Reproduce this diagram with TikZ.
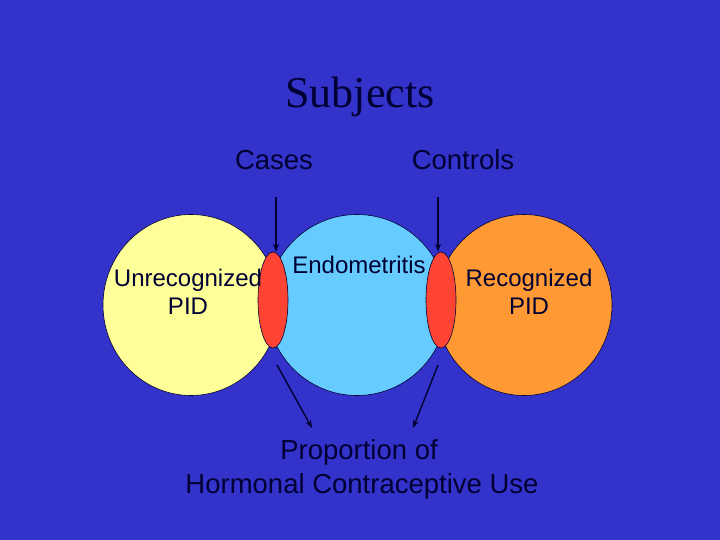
\documentclass[tikz,border=0pt]{standalone}
\usepackage{fontspec}
\setmainfont{Liberation Sans}
\newfontfamily\titlefont{Liberation Serif}
\usetikzlibrary{shapes.geometric,arrows.meta}
\definecolor{bg}{HTML}{3333CC}
\definecolor{ink}{HTML}{000033}
\definecolor{cyel}{HTML}{FFFF99}
\definecolor{cblu}{HTML}{66CCFF}
\definecolor{cora}{HTML}{FF9933}
\definecolor{cred}{HTML}{FF4433}
\tikzset{
  venn/.style={ellipse, draw=ink, line width=0.6pt, inner sep=0pt},
  lbl/.style={anchor=base, text=ink, inner sep=0pt, font=\fontsize{24}{28}\selectfont},
  big/.style={anchor=base, text=ink, inner sep=0pt, font=\fontsize{27.5}{32}\selectfont},
  arr/.style={draw=ink, line width=1.4pt, -{Stealth[length=8pt,width=6pt]}},
}
\begin{document}
\begin{tikzpicture}[x=1pt,y=-1pt]
\fill[bg] (0,0) rectangle (720,540);
\useasboundingbox (0,0) rectangle (720,540);
% circles
\node[venn, fill=cyel, minimum width=176pt, minimum height=181pt] (yel) at (191,305) {};
\node[venn, fill=cora, minimum width=176pt, minimum height=181pt] (ora) at (524,305) {};
\node[venn, fill=cblu, minimum width=180pt, minimum height=181pt] (blu) at (357,305) {};
% overlaps
\node[venn, fill=cred, minimum width=30pt, minimum height=96pt] (e1) at (273,300) {};
\node[venn, fill=cred, minimum width=30pt, minimum height=96pt] (e2) at (441,300) {};
% texts
\node[anchor=base, text=ink, inner sep=0pt, font=\titlefont\fontsize{44}{50}\selectfont] (title) at (360,108) {Subjects};
\node[big] (cases) at (274,170) {Cases};
\node[big] (controls) at (463,170) {Controls};
\node[lbl] (u1) at (188,286) {Unrecognized};
\node[lbl] (u2) at (188,314) {PID};
\node[lbl] (endo) at (359,273) {Endometritis};
\node[lbl] (r1) at (529,286) {Recognized};
\node[lbl] (r2) at (529,314) {PID};
\node[big] (prop) at (359,459) {Proportion of};
\node[big] (hcu) at (362,493) {Hormonal Contraceptive Use};
% arrows
\coordinate (a1) at (276,197);
\coordinate (a2) at (438,197);
\coordinate (b1s) at (277,365);
\coordinate (b1e) at (312,428);
\coordinate (b2s) at (438,365);
\coordinate (b2e) at (413,428);
\draw[arr] (a1) -- (a1 |- e1.north);
\draw[arr] (a2) -- (a2 |- e2.north);
\draw[arr] (b1s) -- (b1e);
\draw[arr] (b2s) -- (b2e);
\end{tikzpicture}
\end{document}
